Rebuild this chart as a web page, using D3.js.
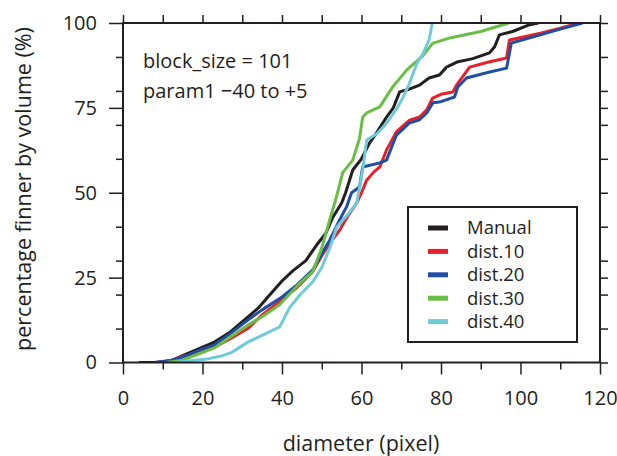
<!DOCTYPE html>
<meta charset="utf-8">
<style>
    body { margin: 0; background: #fff; }
    text { font-family: "Open Sans", sans-serif; fill: #231f20; }
    .tick line { stroke: #231f20; stroke-width: 1.5; }
</style>
<body>
<div id="chart"></div>
<script src="https://d3js.org/d3.v7.min.js"></script>
<script>

    // series names and colours
    var seriesNames = ["Manual", "dist.10", "dist.20", "dist.30", "dist.40"];
    var seriesColors = ["#231f20", "#e8202a", "#1f4fa5", "#6abd45", "#6fcbdc"];

    // [diameter, percentage]
    var manual = [[4,0],[8,0],[12,0.5],[15,2],[19,4],[23,6],[27,9],[31,13],[34,16],[37,20],[40,24],[42.7,27],[46,30],[48.7,34.6],[51,38],[52.8,42.8],[55,47],[56,50],[57.8,56.7],[60,60],[62,64.6],[64,68],[66.3,72.3],[68,75],[69.6,79.7],[72,80.5],[74.6,81.7],[77,83.8],[79.6,84.7],[81.4,87],[84,88.5],[88,89.5],[92.2,91.2],[93.5,93],[94.7,96.5],[98,97.5],[102,99.4],[104.5,100]];
    var dist10 = [[9,0],[12,0.5],[15,1.8],[19,3],[23,4.5],[27,7],[31.4,10],[35,14],[40,18.5],[43.7,22],[47.7,26.7],[50.3,32],[52,35],[54.5,39],[56.5,43],[58.8,47],[60,50],[61.3,53.7],[63,56],[64.6,57.6],[66.3,62.6],[68.8,68],[72.1,71.4],[74.6,72.3],[76.4,74.4],[77.9,77.9],[80,79],[83,79.7],[83.9,81.7],[87.2,87],[92,88.5],[96.5,89.7],[97.2,95],[105,97],[110,98.5],[114.8,100]];
    var dist20 = [[8,0],[12,0.6],[15,1.6],[19,3.5],[23,5.2],[27,8.5],[31.4,12.5],[35,15.5],[40,19.3],[43.7,22.8],[47.7,27.2],[50.3,32.6],[52,36],[54.5,42],[56.3,46],[57.5,50],[59.5,51.7],[60.3,57.6],[64.6,58.8],[66.3,59.6],[68.8,67],[72,70.5],[74.6,71.5],[76.4,73.5],[78,76.5],[79.6,76.7],[83.4,78.2],[84.2,81.1],[86.4,83.8],[92,85.5],[96.5,86.7],[97.7,94.1],[105,96.5],[110,98.2],[115.6,100]];
    var dist30 = [[11,0],[15,0.7],[19,2.5],[23,4.3],[27,7.5],[31.4,11],[35,13.5],[39.4,17],[44.5,23.4],[47.7,26.7],[50,33.7],[52,42],[53.5,48],[55.3,56],[57.8,59.6],[59.5,66],[60.3,72.3],[61.3,73.5],[64.6,75.3],[67.8,81.1],[71.4,86.2],[75.4,90.3],[77.9,94],[82.2,95.6],[90,97.5],[97,100]];
    var dist40 = [[13,0],[17,0.5],[21,1],[25,2],[27.4,3],[31.4,6],[35,8],[39.4,10.5],[42,16.3],[44.5,19.9],[47.7,23.7],[50,28],[52,33.7],[53.8,40],[56.5,43.5],[58.8,47],[60.3,56.7],[61.3,65.5],[64,67.5],[66.3,70.5],[69,75],[70.4,78],[72,82],[73.9,88],[75.5,91],[77,95],[77.8,100]];

    var seriesData = [manual, dist10, dist20, dist30, dist40];

    // tick values
    var xMajor = [0, 20, 40, 60, 80, 100, 120],
        xMinor = [10, 30, 50, 70, 90, 110],
        yMajor = [0, 25, 50, 75, 100],
        yMinor = [10, 20, 30, 40, 60, 70, 80, 90];

    var W = 617, H = 456;
    var plotLeft = 123, plotRight = 600, plotTop = 23, plotBottom = 362.5;

    var x = d3.scaleLinear().domain([0, 120]).range([plotLeft, plotRight]),
        y = d3.scaleLinear().domain([0, 100]).range([plotBottom, plotTop]);

    var svg = d3.select("#chart").append("svg")
        .attr("width", W)
        .attr("height", H);

    svg.append("defs").append("clipPath").attr("id", "clip")
        .append("rect")
        .attr("x", plotLeft).attr("y", plotTop)
        .attr("width", plotRight - plotLeft).attr("height", plotBottom - plotTop);

    function tidy(g) {
        g.select(".domain").remove();
        g.selectAll("text").style("font-size", "20px");
    }

    // bottom axis
    svg.append("g").attr("transform", "translate(0," + plotBottom + ")")
        .call(d3.axisBottom(x).tickValues(xMajor).tickSize(12).tickFormat(d3.format("d")))
        .call(tidy)
        .call(function(g) { g.selectAll("text").attr("y", 42).attr("dy", null); });
    svg.append("g").attr("transform", "translate(0," + plotBottom + ")")
        .call(d3.axisBottom(x).tickValues(xMinor).tickSize(7).tickFormat(""))
        .call(tidy);

    // top axis
    svg.append("g").attr("transform", "translate(0," + plotTop + ")")
        .call(d3.axisTop(x).tickValues(xMajor.concat(xMinor)).tickSize(8).tickFormat(""))
        .call(tidy);

    // left axis
    svg.append("g").attr("transform", "translate(" + plotLeft + ",0)")
        .call(d3.axisLeft(y).tickValues(yMajor).tickSize(14).tickPadding(12).tickFormat(d3.format("d")))
        .call(tidy);
    svg.append("g").attr("transform", "translate(" + plotLeft + ",0)")
        .call(d3.axisLeft(y).tickValues(yMinor).tickSize(7).tickFormat(""))
        .call(tidy);

    // right axis
    svg.append("g").attr("transform", "translate(" + plotRight + ",0)")
        .call(d3.axisRight(y).tickValues(yMajor.concat(yMinor)).tickSize(8).tickFormat(""))
        .call(tidy);

    // curves
    var line = d3.line()
        .x(function(d) { return x(d[0]); })
        .y(function(d) { return y(d[1]); });

    svg.append("g").attr("clip-path", "url(#clip)")
        .selectAll("path")
        .data(seriesData)
        .enter()
        .append("path")
        .attr("d", line)
        .attr("fill", "none")
        .attr("stroke", function(d, i) { return seriesColors[i]; })
        .attr("stroke-width", 3)
        .attr("stroke-linejoin", "round");

    // frame
    svg.append("rect")
        .attr("x", plotLeft).attr("y", plotTop)
        .attr("width", plotRight - plotLeft).attr("height", plotBottom - plotTop)
        .attr("fill", "none")
        .attr("stroke", "#231f20")
        .attr("stroke-width", 2);

    // notes
    svg.append("text").attr("x", 143).attr("y", 68)
        .style("font-size", "20px").text("block_size = 101");
    svg.append("text").attr("x", 143).attr("y", 98)
        .style("font-size", "20px").text("param1 \u221240 to +5");

    // axis titles
    svg.append("text")
        .attr("x", 361).attr("y", 451)
        .attr("text-anchor", "middle")
        .style("font-size", "21.5px")
        .text("diameter (pixel)");

    svg.append("text")
        .attr("transform", "translate(31,189) rotate(-90)")
        .attr("text-anchor", "middle")
        .style("font-size", "21.5px")
        .text("percentage finner by volume (%)");

    // legend
    var legend = svg.append("g").attr("id", "legend");

    legend.append("rect")
        .attr("x", 408).attr("y", 207)
        .attr("width", 169).attr("height", 135)
        .attr("fill", "#fff")
        .attr("stroke", "#231f20")
        .attr("stroke-width", 2);

    var rows = legend.selectAll("g.row")
        .data(seriesNames)
        .enter()
        .append("g")
        .attr("class", "row")
        .attr("transform", function(d, i) { return "translate(0," + (228 + i * 23.4) + ")"; });

    rows.append("line")
        .attr("x1", 428).attr("x2", 448)
        .attr("stroke", function(d, i) { return seriesColors[i]; })
        .attr("stroke-width", 5);

    rows.append("text")
        .attr("x", 467)
        .attr("dy", "0.35em")
        .style("font-size", "18.5px")
        .text(function(d) { return d; });

</script>
</body>
